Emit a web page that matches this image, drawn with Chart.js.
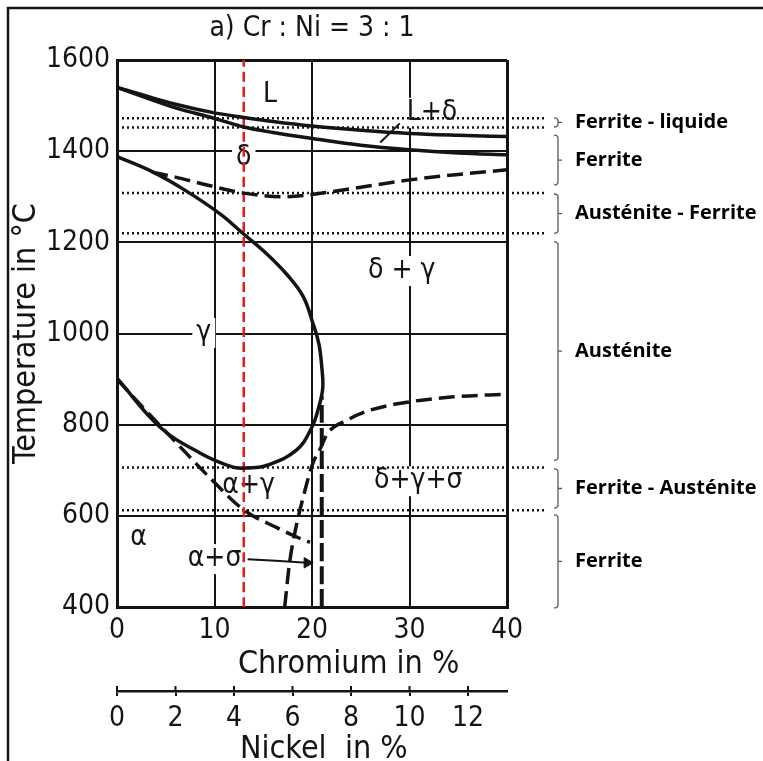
<!DOCTYPE html>
<html>
<head>
<meta charset="utf-8">
<script src="https://cdn.jsdelivr.net/npm/chart.js@4.4.1/dist/chart.umd.min.js"></script>
<style>
  html, body { margin: 0; padding: 0; background: #fff; }
  #wrap { width: 763px; height: 761px; position: relative; }
</style>
</head>
<body>
<div id="wrap"><canvas id="c" width="763" height="761"></canvas></div>
<script>
// Pseudo-binary section Fe–Cr–Ni at a constant ratio Cr:Ni = 3:1

const chartTitle = 'a) Cr : Ni = 3 : 1';
const chromiumTicks = [0, 10, 20, 30, 40];
const nickelTicks = [0, 2, 4, 6, 8, 10, 12];
const temperatureTicks = [400, 600, 800, 1000, 1200, 1400, 1600];

// Phase boundaries (Cr in %, temperature in °C)
const liquidusCr = [0, 3, 6, 10, 13, 16, 20, 25, 30, 35, 40];
const liquidusT  = [1540, 1521, 1503, 1484, 1474, 1465, 1455, 1446, 1439, 1435, 1432];

const solidusCr = [0, 3, 6, 10, 13, 16, 20, 25, 30, 35, 40];
const solidusT  = [1540, 1517, 1495, 1472, 1453, 1441, 1428, 1413, 1403, 1396, 1392];

const deltaSolvusCr = [3.6, 6, 9, 13, 17, 20, 25, 30, 35, 40];
const deltaSolvusT  = [1354, 1343, 1327, 1308, 1300, 1305, 1321, 1337, 1349, 1359];

const gammaLoopCr = [0, 3.6, 7, 10.6, 12.9, 15.4, 17.4, 19.1, 20.1, 20.7, 21, 21.1, 20.7, 20, 18.4, 15.4, 13.5, 11.9, 8.5, 4.4, 0];
const gammaLoopT  = [1388, 1355, 1314, 1262, 1220, 1174, 1130, 1081, 1022, 978, 927, 880, 839, 795, 744, 711, 705, 707, 738, 795, 902];

const alphaCr = [0, 3, 6.1, 9.5, 13, 16.4, 18.5, 19.8];
const alphaT  = [900, 830, 760, 684, 613, 574, 553, 542];

const sigmaCr = [17.2, 17.7, 18.3, 19.1, 20.1, 20.8, 21.6, 23.6, 26, 30, 34.5, 40];
const sigmaT  = [400, 497, 569, 641, 716, 745, 781, 810, 832, 850, 861, 867];

const sigmaLimitCr = [21, 21];
const sigmaLimitT  = [400, 862];

const alloyCr = [13, 13];
const alloyT  = [400, 1600];

// Isotherms where the 13 % Cr alloy crosses a boundary
const isothermT = [1472, 1452, 1308, 1220, 706, 612];
const isothermCr = [0, 43.9];

// Leader lines
const pointerCr = [27.0, 29.0];
const pointerT  = [1419, 1461];
const arrowCr = [13.4, 19.5];
const arrowT  = [505, 497];

// Phase field labels
const regionNames = ['L', 'L+δ', 'δ', 'δ + γ', 'γ', 'α+γ', 'δ+γ+σ', 'α', 'α+σ'];
const regionCr = [15.7, 32.3, 13.0, 29.2, 8.9, 13.5, 30.9, 2.2, 10.0];
const regionT  = [1523, 1484, 1385, 1137, 1001, 665, 676, 551, 505];

// Structure zones along the 13 % Cr alloy
const zoneNames  = ['Ferrite - liquide', 'Ferrite', 'Austénite - Ferrite', 'Austénite', 'Ferrite - Austénite', 'Ferrite'];
const zoneTop    = [1473, 1435, 1306, 1201, 703, 602];
const zoneBottom = [1453, 1326, 1220, 722, 617, 398];

const xTitle = 'Chromium in %';
const niTitle = 'Nickel  in %';
const yTitle = 'Temperature in °C';

const FONT = '"DejaVu Sans Condensed", "DejaVu Sans", sans-serif';
const ZONE_FONT = 'bold 20px "Open Sans", Lato, sans-serif';
const INK = '#141414';

const toPts = (xs, ys) => xs.map((x, i) => ({ x, y: ys[i] }));
const curve = (label, xs, ys, extra) => Object.assign({
  label,
  data: toPts(xs, ys),
  showLine: true,
  borderColor: INK,
  borderWidth: 3.5,
  pointRadius: 0,
  tension: 0.4,
  cubicInterpolationMode: 'monotone',
  fill: false,
  borderCapStyle: 'butt'
}, extra || {});

const dashed = [16, 7];
const datasets = [
  curve('Liquidus', liquidusCr, liquidusT),
  curve('Solidus', solidusCr, solidusT),
  curve('δ / δ+γ', deltaSolvusCr, deltaSolvusT, { borderDash: dashed }),
  // closed-ish loop: x is not monotonic, so use the default bezier
  curve('γ', gammaLoopCr, gammaLoopT, { cubicInterpolationMode: 'default', tension: 0.4 }),
  curve('α / α+γ', alphaCr, alphaT, { borderDash: dashed }),
  curve('σ', sigmaCr, sigmaT, { borderDash: dashed }),
  curve('σ limit', sigmaLimitCr, sigmaLimitT, { borderDash: [18, 5], borderWidth: 4, tension: 0 }),
  curve('13 % Cr', alloyCr, alloyT, { borderColor: '#e8191b', borderWidth: 2.5, borderDash: [10, 5], tension: 0 }),
  ...isothermT.map(t => curve(t + ' °C', isothermCr, [t, t], {
    borderWidth: 2.5, borderDash: [2, 3], tension: 0, clip: false
  })),
  curve('L+δ pointer', pointerCr, pointerT, { borderWidth: 2, tension: 0 }),
  curve('α+σ arrow', arrowCr, arrowT, {
    borderWidth: 2, tension: 0,
    pointRadius: [0, 6], pointStyle: 'triangle', rotation: 90,
    pointBackgroundColor: INK, pointBorderColor: INK, pointBorderWidth: 1
  })
];

const decorations = {
  id: 'decorations',
  beforeDraw(chart) {
    const ctx = chart.ctx;
    ctx.save();
    ctx.fillStyle = '#fff';
    ctx.fillRect(0, 0, chart.width, chart.height);
    ctx.strokeStyle = INK;
    ctx.lineWidth = 2.5;
    ctx.beginPath();
    ctx.moveTo(chart.width, 8);
    ctx.lineTo(8, 8);
    ctx.lineTo(8, chart.height);
    ctx.stroke();
    ctx.restore();
  },
  beforeDatasetsDraw(chart) {
    const { ctx, scales } = chart;
    ctx.save();
    ctx.font = '28px ' + FONT;
    ctx.textAlign = 'center';
    ctx.textBaseline = 'middle';
    regionNames.forEach((name, i) => {
      const px = scales.x.getPixelForValue(regionCr[i]);
      const py = scales.y.getPixelForValue(regionT[i]);
      const w = ctx.measureText(name).width;
      ctx.fillStyle = '#fff';
      ctx.fillRect(px - w / 2 - 4, py - 15, w + 8, 30);
      ctx.fillStyle = INK;
      ctx.fillText(name, px, py);
    });
    ctx.restore();
  },
  afterDraw(chart) {
    const { ctx, scales } = chart;
    ctx.save();
    // titles under the two composition scales
    ctx.font = '32px ' + FONT;
    ctx.fillStyle = INK;
    ctx.textAlign = 'left';
    ctx.textBaseline = 'middle';
    ctx.fillText(xTitle, 238, 665);
    ctx.fillText(niTitle, 240, 750);

    // Ni scale tick marks cross the axis line
    const ni = scales.xNi;
    ctx.strokeStyle = INK;
    ctx.lineWidth = 2;
    ctx.beginPath();
    nickelTicks.forEach(v => {
      const px = ni.getPixelForValue(v);
      ctx.moveTo(px, ni.top - 5);
      ctx.lineTo(px, ni.top);
    });
    ctx.stroke();

    // braces with the structure zone names
    ctx.strokeStyle = '#5a5a5a';
    ctx.lineWidth = 1.3;
    ctx.font = ZONE_FONT;
    ctx.fillStyle = '#000';
    zoneNames.forEach((name, i) => {
      const y1 = scales.y.getPixelForValue(zoneTop[i]);
      const y2 = scales.y.getPixelForValue(zoneBottom[i]);
      const ym = (y1 + y2) / 2;
      ctx.beginPath();
      ctx.moveTo(554, y1);
      ctx.quadraticCurveTo(558, y1, 558, y1 + 3);
      ctx.lineTo(558, y2 - 3);
      ctx.quadraticCurveTo(558, y2, 554, y2);
      ctx.moveTo(558, ym);
      ctx.lineTo(562, ym);
      ctx.stroke();
      ctx.fillText(name, 575, ym);
    });
    ctx.restore();
  }
};

const gridWidth = (edges) => (c) => (c.tick && edges.includes(c.tick.value)) ? 3 : 2;

new Chart(document.getElementById('c'), {
  type: 'scatter',
  data: { datasets },
  plugins: [decorations],
  options: {
    responsive: false,
    animation: false,
    events: [],
    layout: { padding: { left: 0, right: 256, top: 0, bottom: 0 } },
    plugins: {
      legend: { display: false },
      tooltip: { enabled: false },
      title: {
        display: true,
        text: chartTitle,
        fullSize: false,
        color: INK,
        font: { family: FONT, size: 28, weight: 'normal', lineHeight: 1 },
        padding: { top: 15, bottom: 17 }
      }
    },
    scales: {
      x: {
        type: 'linear', position: 'bottom', weight: 0,
        min: 0, max: 40,
        ticks: {
          stepSize: 10, color: INK, padding: 10,
          font: { family: FONT, size: 28, lineHeight: 1 },
          callback: v => chromiumTicks.includes(v) ? String(v) : ''
        },
        grid: { color: INK, lineWidth: gridWidth([0, 40]), drawTicks: false },
        border: { display: true, color: INK, width: 3 },
        afterFit: s => { s.height = 84; }
      },
      xNi: {
        type: 'linear', position: 'bottom', axis: 'x', weight: 1,
        min: 0, max: 40 / 3,
        ticks: {
          stepSize: 2, includeBounds: false, color: INK, padding: 9,
          font: { family: FONT, size: 28, lineHeight: 1 },
          callback: v => nickelTicks.includes(v) ? String(v) : ''
        },
        grid: { drawOnChartArea: false, drawTicks: true, tickLength: 5, color: INK, lineWidth: 2 },
        border: { display: true, color: INK, width: 2.5 },
        afterFit: s => { s.height = 70; }
      },
      y: {
        type: 'linear', position: 'left',
        min: 400, max: 1600,
        ticks: {
          stepSize: 200, color: INK, padding: 7,
          font: { family: FONT, size: 28, lineHeight: 1 },
          callback: v => temperatureTicks.includes(v) ? String(v) : ''
        },
        grid: { color: INK, lineWidth: gridWidth([400, 1600]), drawTicks: false },
        border: { display: true, color: INK, width: 3 },
        title: {
          display: true, text: yTitle, color: INK,
          font: { family: FONT, size: 32, lineHeight: 1 },
          padding: { top: 11, bottom: 0 }
        },
        afterFit: s => { s.width = 117; }
      }
    }
  }
});
</script>
</body>
</html>
